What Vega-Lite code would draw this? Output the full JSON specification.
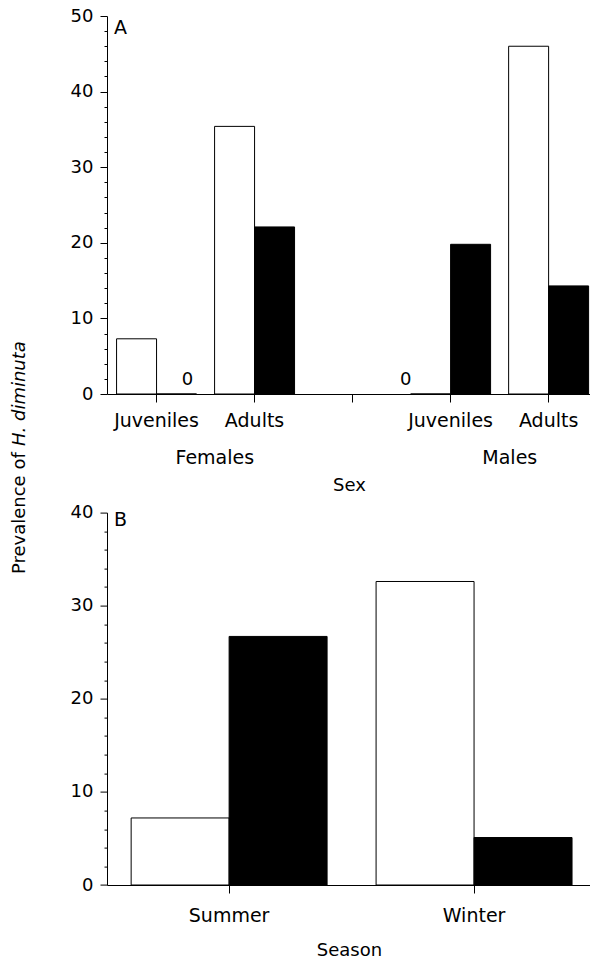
{
  "$schema": "https://vega.github.io/schema/vega-lite/v6.json",
  "padding": {"left": 10, "top": 7, "right": 0, "bottom": 0},
  "config": {
    "font": "DejaVu Sans",
    "view": {"stroke": null},
    "axis": {
      "grid": false,
      "domainColor": "black",
      "tickColor": "black",
      "labelColor": "black",
      "titleColor": "black",
      "labelFont": "DejaVu Sans",
      "titleFont": "DejaVu Sans",
      "titleFontWeight": "normal",
      "domainWidth": 1,
      "tickWidth": 1
    },
    "title": {"font": "DejaVu Sans", "fontWeight": "normal", "color": "black"}
  },
  "datasets": {
    "sex": [
      {"slot": "Females Juveniles", "sex": "Females", "series": "open", "prevalence": 7.3},
      {"slot": "Females Juveniles", "sex": "Females", "series": "filled", "prevalence": 0},
      {"slot": "Females Adults", "sex": "Females", "series": "open", "prevalence": 35.4},
      {"slot": "Females Adults", "sex": "Females", "series": "filled", "prevalence": 22.1},
      {"slot": "Males Juveniles", "sex": "Males", "series": "open", "prevalence": 0},
      {"slot": "Males Juveniles", "sex": "Males", "series": "filled", "prevalence": 19.8},
      {"slot": "Males Adults", "sex": "Males", "series": "open", "prevalence": 46.0},
      {"slot": "Males Adults", "sex": "Males", "series": "filled", "prevalence": 14.3}
    ],
    "season": [
      {"season": "Summer", "series": "open", "prevalence": 7.2},
      {"season": "Summer", "series": "filled", "prevalence": 26.7},
      {"season": "Winter", "series": "open", "prevalence": 32.6},
      {"season": "Winter", "series": "filled", "prevalence": 5.1}
    ]
  },
  "bounds": "flush",
  "spacing": 118.6,
  "resolve": {"scale": {"x": "independent", "xOffset": "independent", "y": "independent"}},
  "vconcat": [
    {
      "width": 484,
      "height": 378,
      "title": {"text": "A", "anchor": "start", "frame": "group", "offset": -46, "dx": 7, "baseline": "alphabetic", "fontSize": 19},
      "resolve": {"scale": {"x": "independent"}},
      "layer": [
        {
          "data": {"name": "sex"},
          "encoding": {
            "x": {
              "field": "slot",
              "type": "nominal",
              "scale": {
                "type": "band",
                "domain": ["Females Juveniles", "Females Adults", "-", "Males Juveniles", "Males Adults"],
                "paddingInner": 0.184,
                "paddingOuter": 0.061,
                "align": 0.8
              },
              "axis": {
                "title": null,
                "labelExpr": "datum.value === '-' ? '' : split(datum.value, ' ')[1]",
                "labelAngle": 0,
                "tickSize": 8,
                "labelPadding": 9,
                "labelFontSize": 19
              }
            },
            "xOffset": {"field": "series", "type": "nominal", "scale": {"domain": ["open", "filled"], "paddingInner": 0, "paddingOuter": 0}},
            "y": {
              "field": "prevalence",
              "type": "quantitative",
              "stack": null,
              "scale": {"domain": [0, 50], "nice": false},
              "axis": {
                "values": [0, 2, 4, 6, 8, 10, 12, 14, 16, 18, 20, 22, 24, 26, 28, 30, 32, 34, 36, 38, 40, 42, 44, 46, 48, 50],
                "labelExpr": "datum.value % 10 === 0 ? datum.label : ''",
                "labelOverlap": false,
                "tickSize": {"condition": {"test": "datum.value % 10 === 0", "value": 7}, "value": 3},
                "labelPadding": 7,
                "labelFontSize": 18,
                "title": "H. diminuta",
                "titleFontStyle": "italic",
                "titleFontSize": 18,
                "titleAngle": -90,
                "titleAlign": "left",
                "titleBaseline": "middle",
                "titleX": -88,
                "titleY": 429.5
              }
            }
          },
          "layer": [
            {
              "mark": {"type": "bar", "stroke": "black", "strokeWidth": 1},
              "encoding": {
                "color": {"field": "series", "type": "nominal", "scale": {"domain": ["open", "filled"], "range": ["white", "black"]}, "legend": null}
              }
            },
            {
              "transform": [{"filter": "datum.prevalence === 0 && datum.sex === 'Females'"}],
              "mark": {"type": "text", "fontSize": 18, "dx": 11, "dy": -9, "baseline": "alphabetic", "color": "black"},
              "encoding": {"text": {"field": "prevalence", "type": "quantitative"}}
            },
            {
              "transform": [{"filter": "datum.prevalence === 0 && datum.sex === 'Males'"}],
              "mark": {"type": "text", "fontSize": 18, "dx": -25, "dy": -9, "baseline": "alphabetic", "color": "black"},
              "encoding": {"text": {"field": "prevalence", "type": "quantitative"}}
            }
          ]
        },
        {
          "data": {"values": [{"sex": "Females"}, {"sex": "Males"}]},
          "mark": {"type": "text", "text": ""},
          "encoding": {
            "x": {
              "field": "sex",
              "type": "nominal",
              "scale": {"type": "band", "domain": ["Females", "-", "Males"], "paddingInner": 0, "paddingOuter": 0.1407, "align": 0.82},
              "axis": {
                "orient": "bottom",
                "title": "Sex",
                "ticks": false,
                "tickSize": 0,
                "domain": false,
                "labelExpr": "datum.value === '-' ? '' : datum.label",
                "labelAngle": 0,
                "labelPadding": 54,
                "labelFontSize": 19,
                "titleFontSize": 18,
                "titleBaseline": "top",
                "titleY": 82
              }
            }
          }
        }
      ]
    },
    {
      "width": 484,
      "height": 372.4,
      "title": {"text": "B", "anchor": "start", "frame": "group", "offset": -93, "dx": 7, "baseline": "alphabetic", "fontSize": 19},
      "data": {"name": "season"},
      "mark": {"type": "bar", "stroke": "black", "strokeWidth": 1},
      "encoding": {
        "x": {
          "field": "season",
          "type": "nominal",
          "scale": {"type": "band", "domain": ["Summer", "Winter"], "paddingInner": 0.2, "paddingOuter": 0.088, "align": 0.56},
          "axis": {
            "title": "Season",
            "labelAngle": 0,
            "tickSize": 8,
            "labelPadding": 13,
            "labelFontSize": 19,
            "titleFontSize": 18,
            "titleBaseline": "top",
            "titleY": 56
          }
        },
        "xOffset": {"field": "series", "type": "nominal", "scale": {"domain": ["open", "filled"], "paddingInner": 0, "paddingOuter": 0}},
        "y": {
          "field": "prevalence",
          "type": "quantitative",
          "stack": null,
          "scale": {"domain": [0, 40], "nice": false},
          "axis": {
            "values": [0, 2, 4, 6, 8, 10, 12, 14, 16, 18, 20, 22, 24, 26, 28, 30, 32, 34, 36, 38, 40],
            "labelExpr": "datum.value % 10 === 0 ? datum.label : ''",
            "labelOverlap": false,
            "tickSize": {"condition": {"test": "datum.value % 10 === 0", "value": 7}, "value": 3},
            "labelPadding": 7,
            "labelFontSize": 18,
            "title": "Prevalence of",
            "titleFontSize": 18,
            "titleAngle": -90,
            "titleAlign": "left",
            "titleBaseline": "middle",
            "titleX": -88,
            "titleY": 61
          }
        },
        "color": {"field": "series", "type": "nominal", "scale": {"domain": ["open", "filled"], "range": ["white", "black"]}, "legend": null}
      }
    }
  ]
}
